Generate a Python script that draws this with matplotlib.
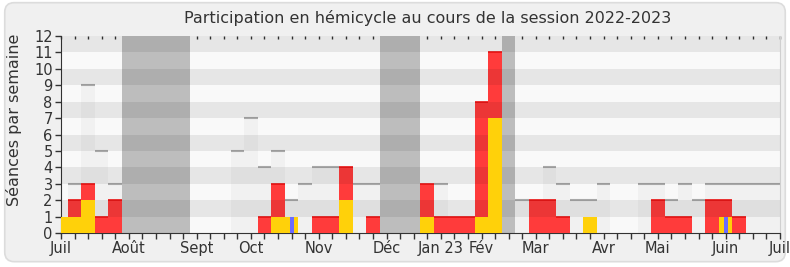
import numpy as np
import matplotlib.pyplot as plt
from matplotlib.patches import FancyBboxPatch

# semaines de la session (0 = premiere semaine de juillet 2022)
weeks = np.arange(54)
seances = [1, 3, 9, 5, 3, 0, 0, 0, 0, 0, 0, 0, 0, 5, 7, 4, 5, 2, 3, 4,
           4, 4, 3, 3, 0, 0, 0, 3, 3, 1, 1, 8, 11, 0, 2, 2, 4, 3, 2, 2,
           3, 0, 0, 3, 3, 2, 3, 2, 3, 3, 3, 3, 3, 3]
presences = [1, 2, 3, 1, 2, 0, 0, 0, 0, 0, 0, 0, 0, 0, 0, 1, 3, 1, 0, 1,
             1, 4, 0, 1, 0, 0, 0, 3, 1, 1, 1, 8, 11, 0, 0, 2, 2, 1, 0, 1,
             0, 0, 0, 0, 2, 1, 1, 0, 2, 2, 1, 0, 0, 0]
interventions = [1, 1, 2, 0, 0, 0, 0, 0, 0, 0, 0, 0, 0, 0, 0, 0, 1, 1, 0, 0,
                 0, 2, 0, 0, 0, 0, 0, 1, 0, 0, 0, 1, 7, 0, 0, 0, 0, 0, 0, 1,
                 0, 0, 0, 0, 0, 0, 0, 0, 0, 1, 0, 0, 0, 0]
questions = [0] * 54
questions[17] = 1
questions[49] = 1
vacances = [5, 6, 7, 8, 9, 24, 25, 26, 33]
mois_pos = [0, 5, 10, 14, 19, 24, 28, 31, 35, 40, 44, 49, 53]
mois_lab = ['Juil', 'Août', 'Sept', 'Oct', 'Nov', 'Déc', 'Jan 23', 'Fév',
            'Mar', 'Avr', 'Mai', 'Juin', 'Juil']

fig = plt.figure(figsize=(7.9, 2.67), dpi=100)
fig.patch.set_facecolor('white')
fig.patches.append(FancyBboxPatch((0.006, 0.02), 0.988, 0.97, boxstyle='round,pad=0,rounding_size=0.012',
                                  mutation_aspect=2.96, transform=fig.transFigure,
                                  facecolor='#F0F0F0', edgecolor='#DCDCDC', lw=1.2, zorder=-10))

ax = fig.add_axes([0.0772, 0.1273, 0.9101, 0.7379])
ax.set_zorder(1)
ax.set_facecolor('#F9F9F9')
ax.set_xlim(0, 53)
ax.set_ylim(0, 12)

s = np.array(seances)
p = np.array(presences)
i = np.array(interventions)

# vacances
for v in vacances:
    ax.axvspan(v - 0.5, v + 0.5, color='#BDBDBD', lw=0, zorder=1)

# seances (gris clair)
ax.bar(weeks, seances, width=1, color='#F1F1F1', lw=0, zorder=2)
m = s > p
ax.hlines(s[m], weeks[m] - 0.5, weeks[m] + 0.5, color='#A8A8A8', lw=1.5, zorder=2.5)

# presences (rouge)
ax.bar(weeks, presences, width=1, color='#FF3B3B', lw=0, zorder=3)
m = p > i
ax.hlines(p[m], weeks[m] - 0.5, weeks[m] + 0.5, color='#E81010', lw=1.2, zorder=3.5)

# bandes horizontales
for y in range(1, 12, 2):
    ax.axhspan(y, y + 1, color='black', alpha=0.075, lw=0, zorder=4)

# interventions (jaune) et questions (bleu)
ax.bar(weeks, interventions, width=1, color='#FFD10A', lw=0, zorder=5)
ax.bar(weeks, questions, width=0.3, color='#6B6BFF', lw=0, zorder=6)

ax.set_yticks(range(13))
ax.set_xticks(weeks)
labels = [''] * 54
for pos, lab in zip(mois_pos, mois_lab):
    labels[pos] = lab
ax.set_xticklabels(labels)
ax.tick_params(axis='both', labelsize=10.5, colors='#333333', length=4, width=1, pad=2)

ax.spines['top'].set_visible(False)
ax.spines['right'].set_color('#D0D0D0')
ax.spines['left'].set_color('#333333')
ax.spines['bottom'].set_color('#333333')

top = ax.secondary_xaxis('top')
top.set_xticks(weeks)
top.set_xticklabels([])
top.tick_params(direction='in', length=2, width=1, colors='#333333')
top.spines['top'].set_visible(False)

fig.text(0.541, 0.933, 'Participation en hémicycle au cours de la session 2022-2023',
         ha='center', va='center', fontsize=11.5, color='#333333')
fig.text(0.018, 0.55, 'Séances par semaine', rotation=90, ha='center', va='center',
         fontsize=11.5, color='#333333')

fig.savefig('out.png', dpi=100, facecolor=fig.get_facecolor())
